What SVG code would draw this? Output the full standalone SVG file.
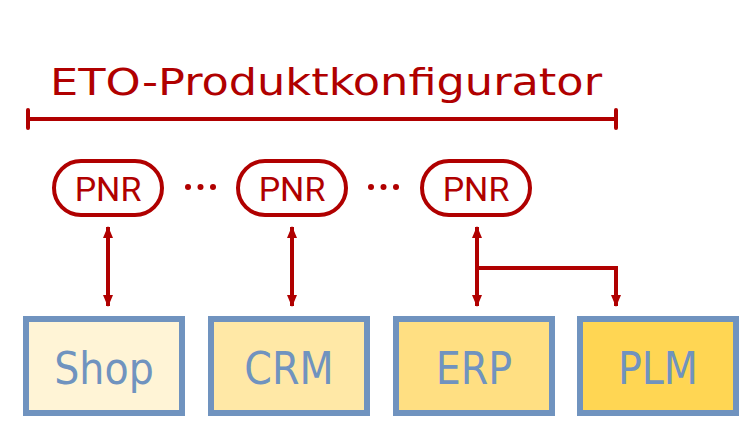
<svg xmlns="http://www.w3.org/2000/svg" width="745" height="426" viewBox="0 0 745 426">
<defs>
<style>
.title{font-family:"DejaVu Sans Condensed","DejaVu Sans",sans-serif;font-stretch:condensed;font-size:38px;fill:#b00000}
.pill{fill:#ffffff;stroke:#b00000;stroke-width:4}
.pnr{font-family:Roboto,"Liberation Sans",sans-serif;font-size:34px;fill:#b00000;text-anchor:middle}
.box{stroke:#7093bf;stroke-width:6}
.lbl{font-family:"DejaVu Sans Condensed","DejaVu Sans",sans-serif;font-stretch:condensed;font-size:44px;fill:#7093bf;text-anchor:middle}
.con{stroke:#b00000;stroke-width:4;fill:none}
.dot{fill:#b00000}
</style>
<marker id="ah" viewBox="0 0 12 12" refX="11" refY="6" markerWidth="12" markerHeight="12" markerUnits="userSpaceOnUse" orient="auto-start-reverse">
<path d="M0,1 L12,6 L0,11 Z" fill="#b00000"/>
</marker>
</defs>
<rect width="745" height="426" fill="#ffffff"/>
<g id="title">
<text class="title" x="50" y="95" textLength="552" lengthAdjust="spacingAndGlyphs">ETO-Produktkonfigurator</text>
<line class="con" x1="28" y1="119" x2="616" y2="119"/>
<line class="con" x1="28" y1="110" x2="28" y2="128" stroke-linecap="round"/>
<line class="con" x1="616" y1="110" x2="616" y2="128" stroke-linecap="round"/>
</g>
<g id="pnr1"><rect class="pill" x="54" y="161" width="108" height="54" rx="27"/><text class="pnr" x="108" y="201">PNR</text></g>
<g id="pnr2"><rect class="pill" x="238" y="161" width="108" height="54" rx="27"/><text class="pnr" x="292" y="201">PNR</text></g>
<g id="pnr3"><rect class="pill" x="422" y="161" width="108" height="54" rx="27"/><text class="pnr" x="476" y="201">PNR</text></g>
<g id="dots1"><circle class="dot" cx="188" cy="187" r="3"/><circle class="dot" cx="200.5" cy="187" r="3"/><circle class="dot" cx="213" cy="187" r="3"/></g>
<g id="dots2"><circle class="dot" cx="371" cy="187" r="3"/><circle class="dot" cx="383.5" cy="187" r="3"/><circle class="dot" cx="396" cy="187" r="3"/></g>
<g id="shop"><rect class="box" x="26" y="319" width="156" height="94" fill="#fff4d6"/><text class="lbl" x="104" y="384">Shop</text></g>
<g id="crm"><rect class="box" x="211" y="319" width="156" height="94" fill="#ffe8a6"/><text class="lbl" x="289" y="384">CRM</text></g>
<g id="erp"><rect class="box" x="396" y="319" width="156" height="94" fill="#ffdf82"/><text class="lbl" x="474" y="384">ERP</text></g>
<g id="plm"><rect class="box" x="580" y="319" width="156" height="94" fill="#ffd653"/><text class="lbl" x="658" y="384">PLM</text></g>
<g id="connectors">
<line class="con" x1="108" y1="227" x2="108" y2="306" marker-start="url(#ah)" marker-end="url(#ah)"/>
<line class="con" x1="292" y1="227" x2="292" y2="306" marker-start="url(#ah)" marker-end="url(#ah)"/>
<line class="con" x1="477" y1="227" x2="477" y2="306" marker-start="url(#ah)" marker-end="url(#ah)"/>
<polyline class="con" points="477,268 616,268 616,306" marker-end="url(#ah)"/>
</g>
</svg>
